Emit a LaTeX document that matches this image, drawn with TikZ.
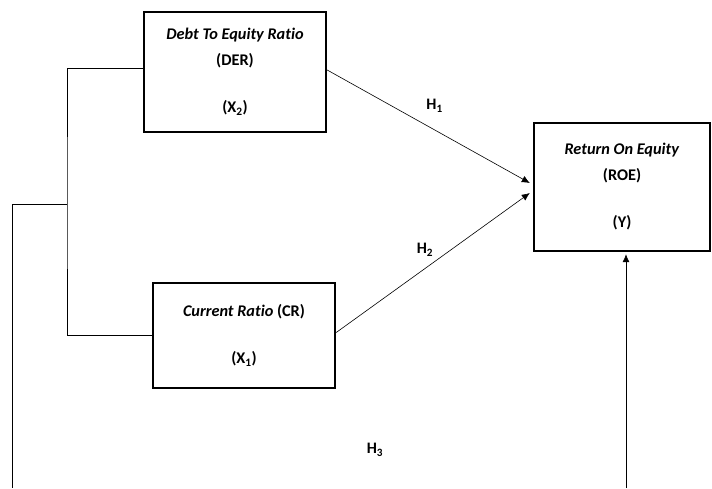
\documentclass[tikz,border=0pt]{standalone}
\usepackage{fontspec}
\setmainfont[Ligatures=NoCommon]{Carlito}
\usetikzlibrary{arrows.meta,positioning}

\begin{document}
\begin{tikzpicture}[x=1pt,y=-1pt,
          var-box/.style = {draw, line width=2.4pt, rectangle, align=center, text centered, font=\fontsize{16.3}{19}\selectfont\bfseries},
          hyp/.style = {font=\fontsize{16}{19}\selectfont\bfseries},
          arr/.style = {-{Latex[length=8pt,width=7pt]}, line width=0.6pt},
          link/.style = {line width=0.6pt}
        ]
          \useasboundingbox (0,0) rectangle (712,488);

          \node[var-box, minimum width=182pt, minimum height=120pt] (der) at (235,72)
            {\textit{Debt To Equity Ratio}\\[7pt](DER)\\[28pt](X\textsubscript{2})};
          \node[var-box, minimum width=182pt, minimum height=105pt] (cr) at (244,335.5)
            {\textit{Current Ratio} (CR)\\[28pt](X\textsubscript{1})};
          \node[var-box, minimum width=176pt, minimum height=128pt] (roe) at (622,187)
            {\textit{Return On Equity}\\[7pt](ROE)\\[28pt](Y)};

          \coordinate (brk) at (67,204);
          \coordinate (lowL) at (12,488);
          \coordinate (lowR) at (626,488);

          \draw[arr] ([yshift=2pt]der.east) -- ([xshift=-3pt,yshift=4pt]roe.west)
            node[hyp, pos=0.53, above=14pt] (h1) {H\textsubscript{1}};
          \draw[arr] ([yshift=3pt]cr.east) -- ([xshift=-3pt,yshift=-6pt]roe.west)
            node[hyp, pos=0.5, above=3pt, xshift=-8pt] (h2) {H\textsubscript{2}};

          \draw[link] ([yshift=4pt]der.west) -| (brk) |- (cr.west);
          \draw[link] (brk) -| (lowL);
          \draw[arr] (lowR) -- ([yshift=-2pt]lowR |- roe.south);

          \node[hyp] (h3) at (375,450) {H\textsubscript{3}};
        \end{tikzpicture}
\end{document}
